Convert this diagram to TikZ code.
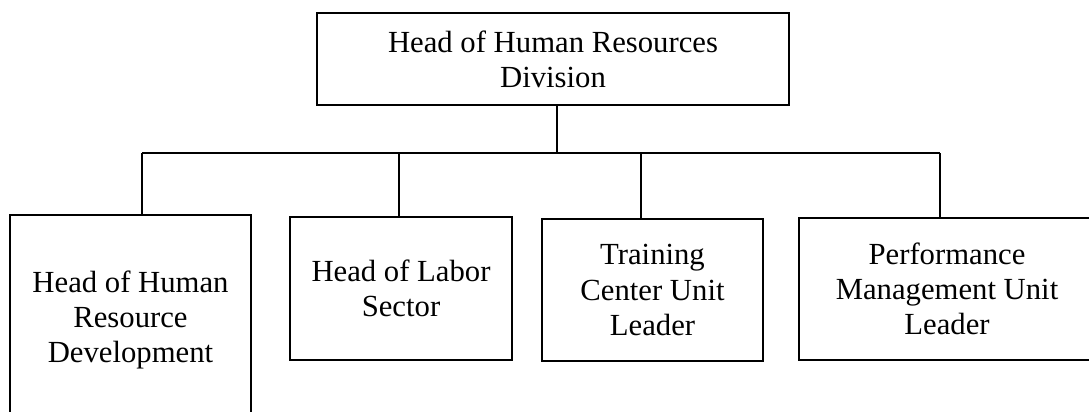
\documentclass[tikz,border=0pt]{standalone}
\usepackage{fontspec}
\usepackage{tikz}
\setmainfont{Liberation Serif}

\begin{document}
\begin{tikzpicture}[x=1pt, y=-1pt, line width=2pt,
    orgbox/.style={draw, rectangle, inner sep=0pt, align=center, font=\fontsize{30.7}{35.3}\selectfont}]
      \useasboundingbox (0,0) rectangle (1089,412);
      \clip (0,0) rectangle (1089,412);

      \node (head) [orgbox, minimum width=472pt, minimum height=92pt] at (553,59) {Head of Human Resources\\Division};
      \node (hrd) [orgbox, minimum width=241pt, minimum height=210pt] at (130.5,320) {Head of Human\\Resource\\Development};
      \node (labor) [orgbox, minimum width=222pt, minimum height=143pt] at (401,288.5) {Head of Labor\\Sector};
      \node (training) [orgbox, minimum width=221pt, minimum height=142pt] at (652.5,290) {Training\\Center Unit\\Leader};
      \node (perf) [orgbox, minimum width=296pt, minimum height=142pt] at (947,289) {Performance\\Management Unit\\Leader};

      \coordinate (hub) at (557,153);
      \coordinate (d1) at (142,153);
      \coordinate (d2) at (399,153);
      \coordinate (d3) at (641,153);
      \coordinate (d4) at (940,153);

      \draw (head.south -| hub) -- (hub);
      \draw (d1) -- (d4);
      \draw (d1) -- (d1 |- hrd.north);
      \draw (d2) -- (d2 |- labor.north);
      \draw (d3) -- (d3 |- training.north);
      \draw (d4) -- (d4 |- perf.north);
    \end{tikzpicture}
\end{document}
